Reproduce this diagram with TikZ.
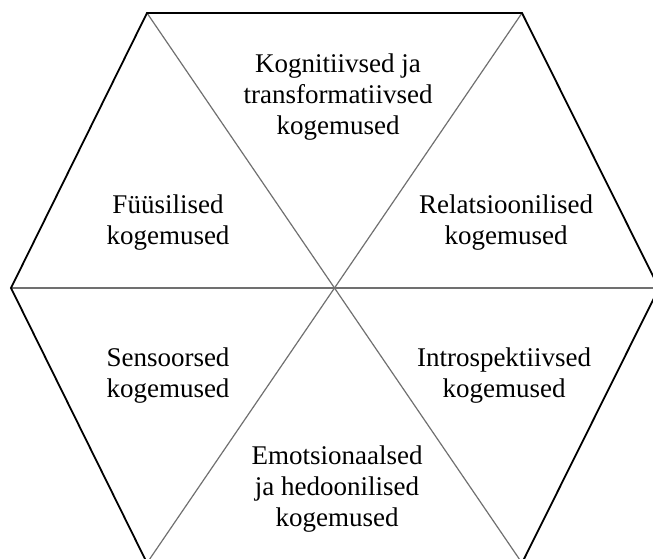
\documentclass[tikz,border=0pt]{standalone}
\usepackage{fontspec}
\setmainfont{Liberation Serif}
\begin{document}
\begin{tikzpicture}[x=1pt,y=-1pt,
  outer/.style={draw=black,line width=1.8pt,line join=miter},
  inner/.style={draw=innergray,line width=1.2pt},
  lbl/.style={align=center,inner sep=0pt,font=\fontsize{27}{31}\selectfont}]
\definecolor{innergray}{HTML}{707070}
\useasboundingbox (0,0) rectangle (653,559);
\clip (0,0) rectangle (653,559);
\coordinate (TL) at (147,13);
\coordinate (TR) at (522,13);
\coordinate (R) at (659,288);
\coordinate (BR) at (522,563);
\coordinate (BL) at (147,563);
\coordinate (L) at (11,288);
\draw[inner] (L) -- (R);
\draw[inner] (TL) -- (BR);
\draw[inner] (TR) -- (BL);
\draw[outer] (TL) -- (TR) -- (R) -- (BR) -- (BL) -- (L) -- cycle;
\node[lbl] (top) at (338,97) {Kognitiivsed ja\\transformatiivsed\\kogemused};
\node[lbl] (fys) at (168,223) {Füüsilised\\kogemused};
\node[lbl] (rel) at (506,223) {Relatsioonilised\\kogemused};
\node[lbl] (sen) at (168,376) {Sensoorsed\\kogemused};
\node[lbl] (int) at (504,376) {Introspektiivsed\\kogemused};
\node[lbl] (emo) at (337,489) {Emotsionaalsed\\ja hedoonilised\\kogemused};
\end{tikzpicture}
\end{document}
